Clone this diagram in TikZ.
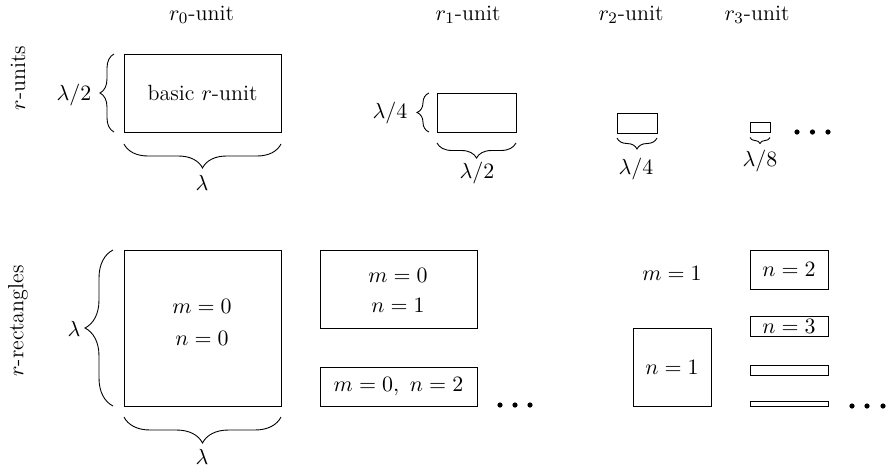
\documentclass[tikz,border=0pt]{standalone}
\usetikzlibrary{decorations.pathreplacing}
\begin{document}
\begin{tikzpicture}[x=0.5pt,y=-0.5pt,
  every node/.style={font=\fontsize{11}{13}\selectfont, inner sep=0pt},
  box/.style={draw, line width=0.45pt, inner sep=0pt, outer sep=0pt},
  brc/.style={decorate, decoration={brace, amplitude=#1}, line width=0.45pt},
  dot/.style={fill=black}]
\useasboundingbox (0,0) rectangle (889,468);

% column headers
\node (h0) at (201.5,15) {$r_0$-unit};
\node (h1) at (468,15) {$r_1$-unit};
\node (h2) at (631,15) {$r_2$-unit};
\node (h3) at (757,15) {$r_3$-unit};

% row labels
\node[rotate=90] (ru) at (18,78) {$r$-units};
\node[rotate=90] (rr) at (18,321) {$r$-rectangles};

% r-units
\node[box, minimum width=78.5pt, minimum height=39pt] (b0) at (202.5,93) {basic $r$-unit};
\node[box, minimum width=39.5pt, minimum height=19.5pt] (b1) at (476.5,112.5) {};
\node[box, minimum width=20pt, minimum height=10pt] (b2) at (637,123) {};
\node[box, minimum width=10pt, minimum height=5pt] (b3) at (760,127.5) {};

\draw[brc=7pt] ([xshift=-5pt]b0.south west) -- ([xshift=-5pt]b0.north west);
\draw[brc=12pt] ([yshift=-6pt]b0.south east) -- ([yshift=-6pt]b0.south west);
\draw[brc=6pt] ([xshift=-4pt]b1.south west) -- ([xshift=-4pt]b1.north west);
\draw[brc=7.5pt] ([yshift=-5.5pt]b1.south east) -- ([yshift=-5.5pt]b1.south west);
\draw[brc=5.5pt] ([yshift=-2.5pt]b2.south east) -- ([yshift=-2.5pt]b2.south west);
\draw[brc=3pt] ([yshift=-2.5pt]b3.south east) -- ([yshift=-2.5pt]b3.south west);

\node (l0v) at (74,95) {$\lambda/2$};
\node (l0h) at (202,183) {$\lambda$};
\node (l1v) at (390,113) {$\lambda/4$};
\node (l1h) at (477,173) {$\lambda/2$};
\node (l2h) at (636,169) {$\lambda/4$};
\node (l3h) at (760,161) {$\lambda/8$};

\foreach \x in {797,812.5,828} \fill[dot] (\x,132) circle (1.3pt);

% r-rectangles
\node[box, minimum width=78.5pt, minimum height=78pt] (R00) at (202.5,328) {};
\node (t00a) at (202,306) {$m=0$};
\node (t00b) at (202,338) {$n=0$};
\draw[brc=14pt] ([xshift=-5.5pt]R00.south west) -- ([xshift=-5.5pt]R00.north west);
\draw[brc=13pt] ([yshift=-5.5pt]R00.south east) -- ([yshift=-5.5pt]R00.south west);
\node (L0v) at (74,329) {$\lambda$};
\node (L0h) at (202,457) {$\lambda$};

\node[box, minimum width=78.5pt, minimum height=39pt] (R01) at (398.5,289) {};
\node (t01a) at (398,275) {$m=0$};
\node (t01b) at (398,305) {$n=1$};
\node[box, minimum width=78.5pt, minimum height=19.5pt] (R02) at (398.5,386.5) {$m=0,\ n=2$};
\foreach \x in {500,515,530} \fill[dot] (\x,405) circle (1.3pt);

\node (m1) at (672,273) {$m=1$};
\node[box, minimum width=39pt, minimum height=39pt] (R11) at (672,367) {$n=1$};
\node[box, minimum width=39pt, minimum height=19.5pt] (R12) at (789,269.5) {$n=2$};
\node[box, minimum width=39pt, minimum height=9.75pt] (R13) at (789,326.5) {$n=3$};
\node[box, minimum width=39pt, minimum height=4.9pt] (R14) at (789,370.5) {};
\node[box, minimum width=39pt, minimum height=2.45pt] (R15) at (789,403.8) {};
\foreach \x in {852,867,883} \fill[dot] (\x,406) circle (1.3pt);
\end{tikzpicture}
\end{document}
